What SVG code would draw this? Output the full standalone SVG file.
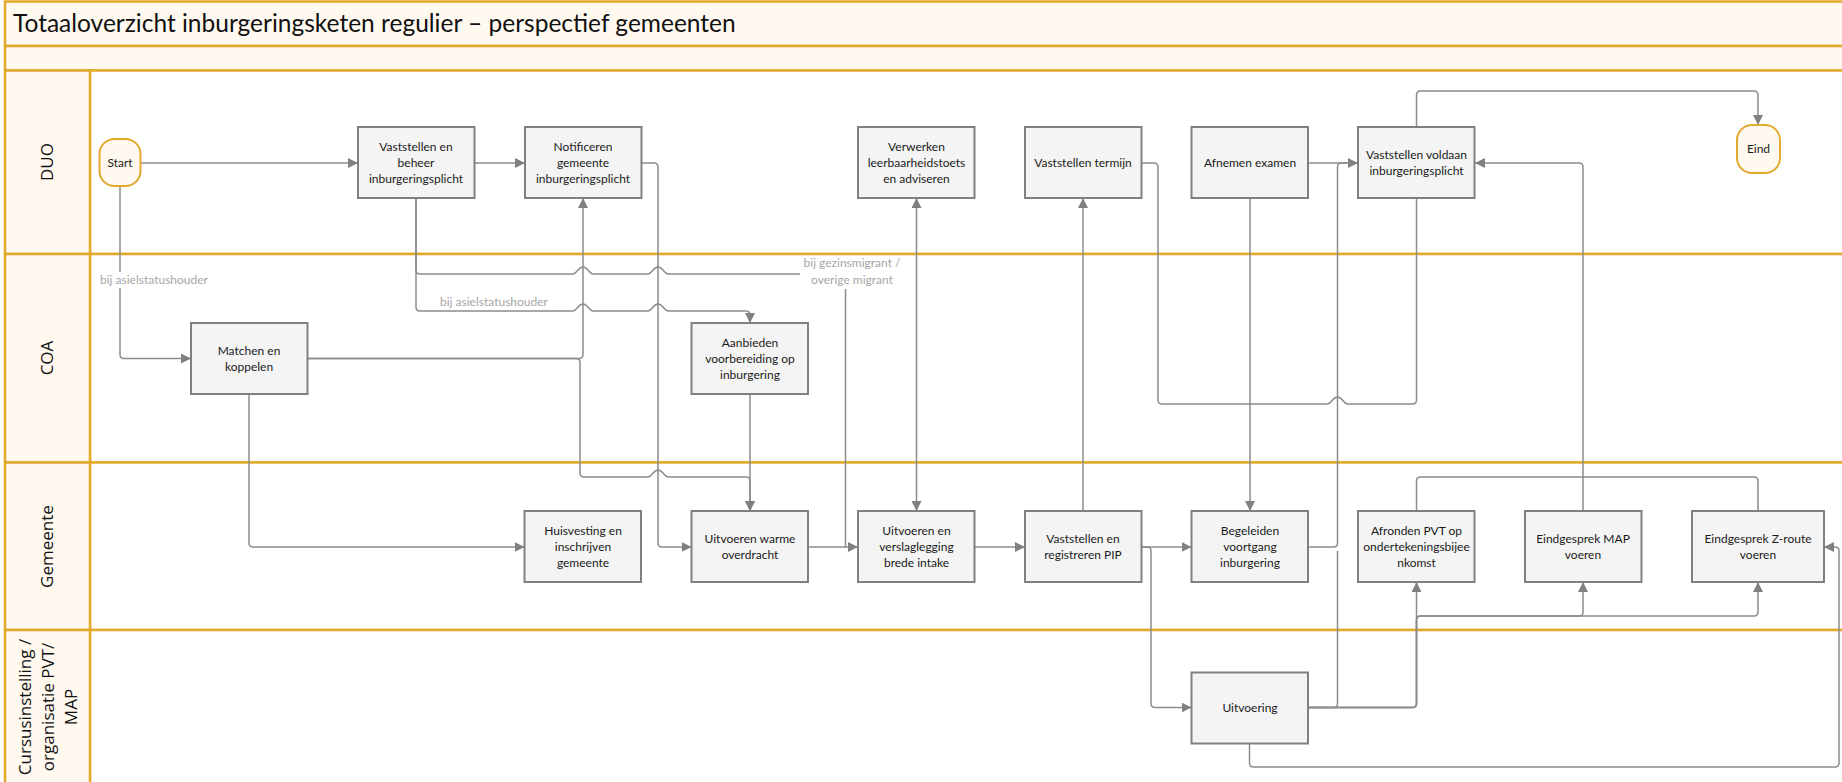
<svg xmlns="http://www.w3.org/2000/svg" width="1842" height="782" viewBox="0 0 1842 782">
<defs>
<style>
.band{fill:#FFF9F0;stroke:#E2A92B;stroke-width:2.5}
.hdr{fill:#FFF9F0;stroke:#E2A92B;stroke-width:2.5}
.lane{fill:#FFFFFF;stroke:#E2A92B;stroke-width:2.5}
.box{fill:#F4F4F4;stroke:#808080;stroke-width:2}
.term{fill:#FFF9F0;stroke:#E2A92B;stroke-width:2}
.t{font-family:Lato,"Liberation Sans",sans-serif;font-size:12px;fill:#1a1a1a;text-anchor:middle}
.lbl{font-family:Lato,"Liberation Sans",sans-serif;font-size:12px;fill:#A6A6A6}
.lane-t{font-family:"Open Sans","DejaVu Sans",sans-serif;font-size:17px;fill:#111;text-anchor:middle}
.title{font-family:Lato,"Liberation Sans",sans-serif;font-size:24.5px;fill:#111}
.c{fill:none;stroke:#8C8C8C;stroke-width:1.5;stroke-linejoin:round}
.a{marker-end:url(#arr)}
</style>
<marker id="arr" viewBox="0 0 10 10" refX="10" refY="5" markerWidth="10" markerHeight="10" markerUnits="userSpaceOnUse" orient="auto-start-reverse">
<path d="M0,0 L10,5 L0,10 z" fill="#808080"/>
</marker>
</defs>

<g id="pool">
<rect class="band" x="5" y="1.5" width="1845" height="44.5"/>
<rect class="band" x="5" y="46" width="1845" height="24.5"/>
<text class="title" x="13" y="32">Totaaloverzicht inburgeringsketen regulier – perspectief gemeenten</text>
</g>

<g id="lane-duo">
<rect class="lane" x="90" y="70.5" width="1760" height="183.5"/>
<rect class="hdr" x="5" y="70.5" width="85" height="183.5"/>
<text class="lane-t" transform="translate(47,162) rotate(-90)" dy="0.35em">DUO</text>
</g>
<g id="lane-coa">
<rect class="lane" x="90" y="254" width="1760" height="208.5"/>
<rect class="hdr" x="5" y="254" width="85" height="208.5"/>
<text class="lane-t" transform="translate(47,358) rotate(-90)" dy="0.35em">COA</text>
</g>
<g id="lane-gemeente">
<rect class="lane" x="90" y="462.5" width="1760" height="167.5"/>
<rect class="hdr" x="5" y="462.5" width="85" height="167.5"/>
<text class="lane-t" transform="translate(47,546.5) rotate(-90)" dy="0.35em">Gemeente</text>
</g>
<g id="lane-cursus">
<rect class="lane" x="90" y="630" width="1760" height="170"/>
<rect class="hdr" x="5" y="630" width="85" height="170"/>
<text class="lane-t" transform="translate(48,707) rotate(-90)"><tspan x="0" y="-23" dy="0.35em">Cursusinstelling /</tspan><tspan x="0" y="0" dy="0.35em">organisatie PVT/</tspan><tspan x="0" y="23" dy="0.35em">MAP</tspan></text>
</g>

<g id="connectors">
<path class="c a" d="M140.5,163 H358"/>
<path class="c a" d="M474.5,163 H525"/>
<path class="c a" d="M641.5,163 H654 Q658,163 658,167 V543 Q658,547 662,547 H691.5"/>
<path class="c a" d="M120,186 V354.5 Q120,358.5 124,358.5 H191"/>
<path class="c" d="M416,198 V270 Q416,274 420,274 H573 C577,274 578,267 583,267 C588,267 589,274 593,274 H648 C652,274 653,267 658,267 C663,267 664,274 668,274 H841.5 Q845.5,274 845.5,278 V547"/>
<path class="c a" d="M416,198 V307 Q416,311 420,311 H573 C577,311 578,304 583,304 C588,304 589,311 593,311 H648 C652,311 653,304 658,304 C663,304 664,311 668,311 H746 Q750,311 750,315 V323"/>
<path class="c a" d="M307,358.5 H579 Q583,358.5 583,354.5 V198"/>
<path class="c a" d="M307,358.5 H576 Q580,358.5 580,362.5 V473 Q580,477 584,477 H648 C652,477 653,470 658,470 C663,470 664,477 668,477 H746 Q750,477 750,481 V511"/>
<path class="c a" d="M750,394 V511"/>
<path class="c a" d="M249,394 V543 Q249,547 253,547 H524.5"/>
<path class="c a" d="M807.5,547 H858"/>
<path class="c a" d="M916.5,198 V511" marker-start="url(#arr)"/>
<path class="c a" d="M974.5,547 H1025"/>
<path class="c a" d="M1083,511 V198"/>
<path class="c a" d="M1141.5,547 H1191.5"/>
<path class="c a" d="M1141.5,547 H1147 Q1151,547 1151,551 V703.5 Q1151,707.5 1155,707.5 H1191.5"/>
<path class="c a" d="M1250,198 V511"/>
<path class="c a" d="M1308,163 H1358"/>
<path class="c" d="M1141.5,163 H1154 Q1158,163 1158,167 V400 Q1158,404 1162,404 H1327.5 C1331.5,404 1332.5,397 1337.5,397 C1342.5,397 1343.5,404 1347.5,404 H1412.5 Q1416.5,404 1416.5,400 V198"/>
<path class="c" d="M1308,547 H1333.5 Q1337.5,547 1337.5,543 V167 Q1337.5,163 1341.5,163 H1350"/>
<path class="c" d="M1308,707.5 H1333.5 Q1337.5,707.5 1337.5,703.5 V551"/>
<path class="c a" d="M1308,707.5 H1412.5 Q1416.5,707.5 1416.5,703.5 V582"/>
<path class="c a" d="M1308,707.5 H1412.5 Q1416.5,707.5 1416.5,703.5 V620 Q1416.5,616 1420.5,616 H1579 Q1583,616 1583,612 V582"/>
<path class="c a" d="M1308,707.5 H1412.5 Q1416.5,707.5 1416.5,703.5 V620 Q1416.5,616 1420.5,616 H1754 Q1758,616 1758,612 V582"/>
<path class="c a" d="M1416.5,127 V95 Q1416.5,91 1420.5,91 H1754 Q1758,91 1758,95 V125"/>
<path class="c" d="M1416.5,511 V481 Q1416.5,477 1420.5,477 H1754 Q1758,477 1758,481 V511"/>
<path class="c a" d="M1583,511 V167 Q1583,163 1579,163 H1475"/>
<path class="c a" d="M1249.5,743.5 V763 Q1249.5,767 1253.5,767 H1835 Q1839,767 1839,763 V551 Q1839,547 1835,547 H1824"/>
</g>

<g id="labels">
<rect x="99" y="272" width="114" height="16" fill="#FFFFFF"/>
<text class="lbl" x="100" y="284">bij asielstatushouder</text>
<text class="lbl" x="440" y="306">bij asielstatushouder</text>
<rect x="800" y="256" width="106" height="33" fill="#FFFFFF"/>
<text class="lbl" x="852" y="267" text-anchor="middle">bij gezinsmigrant /</text>
<text class="lbl" x="852" y="284" text-anchor="middle">overige migrant</text>
</g>

<g id="n-start"><rect class="term" x="99.5" y="139" width="41" height="47" rx="15" ry="15"/><text class="t" x="120" y="167">Start</text></g>
<g id="n-vaststellen-beheer"><rect class="box" x="358" y="127" width="116.5" height="71"/><text class="t" x="416" y="151">Vaststellen en</text><text class="t" x="416" y="167">beheer</text><text class="t" x="416" y="183">inburgeringsplicht</text></g>
<g id="n-notificeren"><rect class="box" x="525" y="127" width="116.5" height="71"/><text class="t" x="583" y="151">Notificeren</text><text class="t" x="583" y="167">gemeente</text><text class="t" x="583" y="183">inburgeringsplicht</text></g>
<g id="n-verwerken"><rect class="box" x="858" y="127" width="116.5" height="71"/><text class="t" x="916.5" y="151">Verwerken</text><text class="t" x="916.5" y="167">leerbaarheidstoets</text><text class="t" x="916.5" y="183">en adviseren</text></g>
<g id="n-termijn"><rect class="box" x="1025" y="127" width="116.5" height="71"/><text class="t" x="1083" y="167">Vaststellen termijn</text></g>
<g id="n-afnemen"><rect class="box" x="1191.5" y="127" width="116.5" height="71"/><text class="t" x="1250" y="167">Afnemen examen</text></g>
<g id="n-voldaan"><rect class="box" x="1358" y="127" width="116.5" height="71"/><text class="t" x="1416.5" y="159">Vaststellen voldaan</text><text class="t" x="1416.5" y="175">inburgeringsplicht</text></g>
<g id="n-eind"><rect class="term" x="1737" y="125" width="43" height="48" rx="15" ry="15"/><text class="t" x="1758.5" y="153">Eind</text></g>

<g id="n-matchen"><rect class="box" x="191" y="323" width="116.5" height="71"/><text class="t" x="249" y="355">Matchen en</text><text class="t" x="249" y="371">koppelen</text></g>
<g id="n-aanbieden"><rect class="box" x="691.5" y="323" width="116.5" height="71"/><text class="t" x="750" y="347">Aanbieden</text><text class="t" x="750" y="363">voorbereiding op</text><text class="t" x="750" y="379">inburgering</text></g>

<g id="n-huisvesting"><rect class="box" x="524.5" y="511" width="116.5" height="71"/><text class="t" x="583" y="535">Huisvesting en</text><text class="t" x="583" y="551">inschrijven</text><text class="t" x="583" y="567">gemeente</text></g>
<g id="n-warme"><rect class="box" x="691.5" y="511" width="116.5" height="71"/><text class="t" x="750" y="543">Uitvoeren warme</text><text class="t" x="750" y="559">overdracht</text></g>
<g id="n-intake"><rect class="box" x="858" y="511" width="116.5" height="71"/><text class="t" x="916.5" y="535">Uitvoeren en</text><text class="t" x="916.5" y="551">verslaglegging</text><text class="t" x="916.5" y="567">brede intake</text></g>
<g id="n-pip"><rect class="box" x="1025" y="511" width="116.5" height="71"/><text class="t" x="1083" y="543">Vaststellen en</text><text class="t" x="1083" y="559">registreren PIP</text></g>
<g id="n-begeleiden"><rect class="box" x="1191.5" y="511" width="116.5" height="71"/><text class="t" x="1250" y="535">Begeleiden</text><text class="t" x="1250" y="551">voortgang</text><text class="t" x="1250" y="567">inburgering</text></g>
<g id="n-afronden"><rect class="box" x="1358" y="511" width="116.5" height="71"/><text class="t" x="1416.5" y="535">Afronden PVT op</text><text class="t" x="1416.5" y="551">ondertekeningsbijee</text><text class="t" x="1416.5" y="567">nkomst</text></g>
<g id="n-map"><rect class="box" x="1525" y="511" width="116.5" height="71"/><text class="t" x="1583" y="543">Eindgesprek MAP</text><text class="t" x="1583" y="559">voeren</text></g>
<g id="n-zroute"><rect class="box" x="1692" y="511" width="132" height="71"/><text class="t" x="1758" y="543">Eindgesprek Z-route</text><text class="t" x="1758" y="559">voeren</text></g>

<g id="n-uitvoering"><rect class="box" x="1191.5" y="672.5" width="116.5" height="71"/><text class="t" x="1250" y="712">Uitvoering</text></g>
</svg>
